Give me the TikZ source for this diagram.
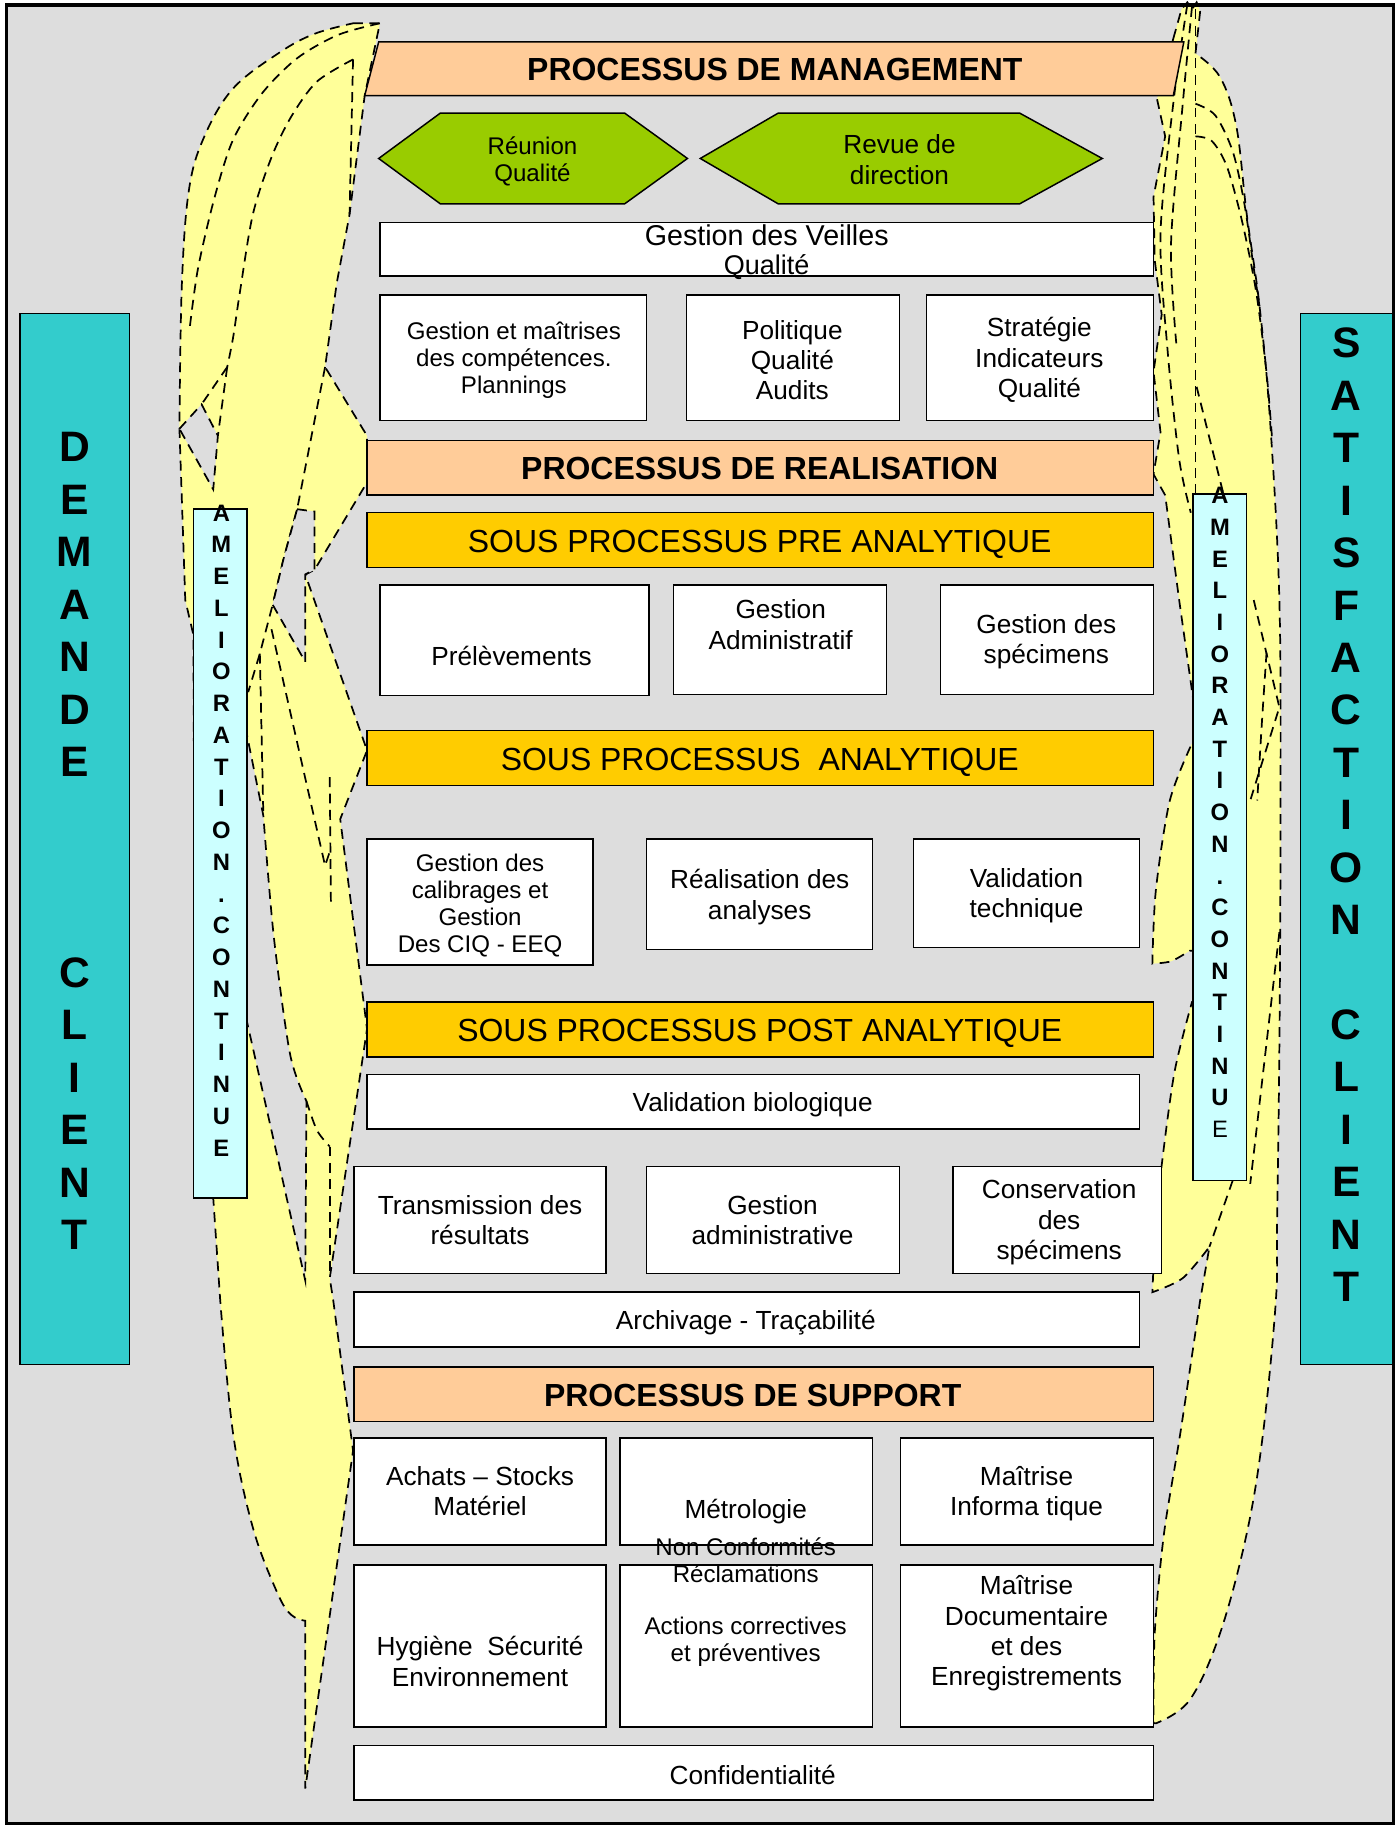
\documentclass[tikz,border=0pt]{standalone}
\usepackage{fontspec}
\setmainfont{Liberation Sans}
\usetikzlibrary{fit}
\definecolor{bgC}{HTML}{DDDDDD}
\definecolor{orC}{HTML}{FFCC99}
\definecolor{goC}{HTML}{FFCC00}
\definecolor{grC}{HTML}{99CC00}
\definecolor{teC}{HTML}{33CCCC}
\definecolor{cyC}{HTML}{CCFFFF}
\definecolor{yeC}{HTML}{FFFF99}
\tikzset{
  bx/.style={draw=black, line width=0.9pt, inner sep=0pt},
  wbox/.style={bx, fill=white},
  obox/.style={bx, fill=orC},
  gbox/.style={bx, fill=goC},
  dsh/.style={draw=black, line width=1.05pt, dash pattern=on 6pt off 4pt},
  tx/.style={inner sep=0pt, align=center},
  fbar/.style={tx, font=\bfseries\fontsize{19.5}{22}\selectfont},
  fsub/.style={tx, font=\fontsize{19.5}{22}\selectfont},
  fnorm/.style={tx, font=\fontsize{16}{18.5}\selectfont},
  fsmall/.style={tx, font=\fontsize{14.7}{16.5}\selectfont},
  bigl/.style={inner sep=0pt, anchor=base, font=\bfseries\fontsize{26}{30}\selectfont},
  aml/.style={inner sep=0pt, anchor=base, font=\bfseries\fontsize{14.5}{17}\selectfont},
}
\begin{document}
\begin{tikzpicture}[x=0.025cm,y=-0.025cm]
\useasboundingbox (0,0) rectangle (1200,1568);
\fill[white] (0,0) rectangle (1200,1568);
\fill[bgC] (5,4) rectangle (1196,1565);

% ---------- left yellow shape ----------
\filldraw[fill=yeC, dsh] (303,20) -- (326,20) -- (313,82) -- (300,184) -- (289,243) -- (279,315) -- (315,374) -- (315,414) -- (270,489) -- (262,493) -- (315,644) -- (292,703) -- (315,883) -- (283,1097) -- (286,1116) -- (303,1245) -- (262,1535) -- (262,1391)
  -- plot[smooth, tension=0.6] coordinates {(262,1391) (250,1386) (238,1367) (217,1311) (200,1230) (189,1116)}
  -- (183,1028) -- (168,1028) -- (166,545) -- (159,515) -- (154,368)
  -- plot[smooth, tension=0.6] coordinates {(154,368) (156,246) (162,164) (175,118) (200,76) (240,45) (270,29) (303,20)} -- cycle;
\draw[dsh] plot[smooth] coordinates {(326,20) (290,30) (255,50) (225,80) (200,120) (184,170) (170,230) (163,280)};
\draw[dsh] plot[smooth] coordinates {(303,51) (272,70) (250,100) (233,135) (217,184) (206,250) (200,290) (195,315)};
\draw[dsh] (303,51) -- (300,184);
\draw[dsh] (195,315) -- (173,347);
\draw[dsh] (195,315) -- (187,374);
\filldraw[fill=bgC, dsh] (154,368) -- (173,347) -- (187,374) -- (183,420) -- cycle;
\draw[dsh] (279,315) -- (255,437) -- (243,481) -- (234,519) -- (223,561) -- (213,594);
\filldraw[fill=bgC, dsh] (255,437) -- (270,439) -- (270,489) -- (262,493) -- (262,568) -- (234,519) -- (243,481) -- cycle;
\draw[dsh] (223,561) -- (226,699);
\draw[dsh] (233,540) -- (279,743) -- (283,731);
\draw[dsh] (283,667) -- (284,775);
\filldraw[fill=bgC, dsh] (205,631) -- (212,631) -- (226,700)
  -- plot[smooth] coordinates {(226,700) (235,804) (249,905) (263,945)}
  -- (262,1099) -- (212,877) -- (205,877) -- cycle;
\draw[dsh] plot[smooth] coordinates {(263,945) (272,970) (283,984)};
\draw[dsh] (283,984) -- (283,1092);

% ---------- right yellow shape ----------
\filldraw[fill=yeC, dsh] (1007,33) -- (1014,8) -- (1019,2) -- (1023,8) -- (1027,2) -- (1030,10) -- (1026,46)
  -- plot[smooth, tension=0.6] coordinates {(1026,46) (1047,66) (1061,108) (1070,184) (1081,263) (1090,361) (1098,515) (1099,700) (1098,900) (1096,1050) (1095,1116) (1084,1230) (1070,1316) (1047,1402) (1021,1459) (992,1479)}
  -- (990,1479)
  -- plot[smooth] coordinates {(990,1479) (991,1402) (999,1316) (1013,1230) (1030,1116)}
  -- (1038,1070)
  -- plot[smooth] coordinates {(1038,1070) (1015,1097) (989,1109)}
  -- plot[smooth] coordinates {(989,1109) (992,1050) (997,1000) (1008,920) (1023,860)}
  -- (1030,860) -- (1030,816) -- (1021,816)
  -- plot[smooth] coordinates {(1021,816) (1005,825) (989,827)}
  -- plot[smooth] coordinates {(989,827) (992,764) (1004,687) (1023,638)}
  -- (1030,638) -- (1030,600) -- (1024,600) -- (1012,515) -- (1000,425) -- (990,407) -- (996,371) -- (990,319) -- (997,270) -- (991,223) -- (990,169) -- (1000,117) -- (993,85) -- cycle;
\draw[dsh] (1026,8) -- (1026,424);
\draw[dsh] plot[smooth] coordinates {(1026,89) (1043,99) (1058,130) (1068,175) (1076,230) (1081,263)};
\draw[dsh] plot[smooth] coordinates {(1026,117) (1040,121) (1053,143) (1066,190) (1078,250) (1087,320) (1092,380)};
\draw[dsh] plot[smooth] coordinates {(1019,4) (1008,80) (996,200) (1002,300) (1012,394) (1022,440)};
\draw[dsh] plot[smooth] coordinates {(1023,6) (1015,90) (1005,210) (1010,300)};
\draw[dsh] (1027,332) -- (1050,424);
\draw[dsh] (1076,515) -- (1098,607) -- (1073,687);
\draw[dsh] plot[smooth] coordinates {(1087,560) (1083,620) (1079,687)};
\draw[dsh] (1098,800) -- (1073,1016);
\draw[dsh] (1058,1013) -- (1038,1070);

% ---------- management ----------
\filldraw[bx, fill=orC] (325,36) -- (1016,36) -- (1007,82) -- (313,82) -- cycle;
\node[fbar] (mgmtT) at (665,60) {PROCESSUS DE MANAGEMENT};
\filldraw[bx, fill=grC] (325,136) -- (378,97) -- (536,97) -- (590,136) -- (536,175) -- (378,175) -- cycle;
\filldraw[bx, fill=grC] (601,136) -- (668,97) -- (875,97) -- (946,136) -- (875,175) -- (668,175) -- cycle;
\node[tx, font=\fontsize{14.7}{17}\selectfont] (reuT) at (457,138.5) {Réunion\\Qualité};
\node[tx, font=\fontsize{16}{19}\selectfont] (revT) at (772,137) {Revue de\\direction};

\node[wbox, fit={(326,191) (990,237)}] (veil) {};
\node[tx, font=\fontsize{17.5}{20}\selectfont] (veilT1) at (658,202) {Gestion des Veilles};
\node[tx, font=\fontsize{16.5}{19}\selectfont] (veilT2) at (658,229) {Qualité};

\node[wbox, fit={(326,253) (555,361)}] (comp) {};
\node[wbox, fit={(589,253) (772,361)}] (pol) {};
\node[wbox, fit={(795,253) (990,361)}] (strat) {};
\node[fsmall] (compT) at (441,309.5) {Gestion et maîtrises\\des compétences.\\Plannings};
\node[fnorm] (polT) at (680,309) {Politique\\Qualité\\Audits};
\node[fnorm] (stratT) at (892,309) {Stratégie\\Indicateurs\\Qualité};

% ---------- realisation ----------
\node[obox, fit={(315,378) (990,425)}] (real) {};
\node[fbar] (realT) at (652,402) {PROCESSUS DE REALISATION};
\node[gbox, fit={(315,440) (990,487)}] (pre) {};
\node[fsub] (preT) at (652,467) {SOUS PROCESSUS PRE ANALYTIQUE};

\node[wbox, fit={(326,502) (557,597)}] (prel) {};
\node[wbox, fit={(578,502) (761,596)}] (adm) {};
\node[wbox, fit={(807,502) (990,596)}] (spec) {};
\node[fnorm] (prelT) at (439,563) {Prélèvements};
\node[fnorm] (admT) at (670,536) {Gestion\\Administratif};
\node[fnorm] (specT) at (898,551) {Gestion des\\spécimens};

\node[gbox, fit={(315,627) (990,674)}] (ana) {};
\node[fsub] (anaT) at (652,654) {SOUS PROCESSUS\ \ ANALYTIQUE};

\node[wbox, fit={(315,720) (509,828)}] (cal) {};
\node[wbox, fit={(555,720) (749,815)}] (rea) {};
\node[wbox, fit={(784,720) (978,813)}] (vt) {};
\node[tx, font=\fontsize{14.7}{16.4}\selectfont] (calT) at (412,777) {Gestion des\\calibrages et\\Gestion\\Des CIQ - EEQ};
\node[fnorm] (reaT) at (652,770) {Réalisation des\\analyses};
\node[fnorm] (vtT) at (881,769) {Validation\\technique};

\node[gbox, fit={(315,860) (990,907)}] (post) {};
\node[fsub] (postT) at (652,887) {SOUS PROCESSUS POST ANALYTIQUE};
\node[wbox, fit={(315,922) (978,969)}] (vb) {};
\node[fnorm] (vbT) at (646,948) {Validation biologique};

\node[wbox, fit={(304,1001) (520,1093)}] (tr) {};
\node[wbox, fit={(555,1001) (772,1093)}] (ga) {};
\node[wbox, fit={(818,1001) (997,1093)}] (cs) {};
\node[fnorm] (trT) at (412,1047) {Transmission des\\résultats};
\node[fnorm] (gaT) at (663,1047) {Gestion\\administrative};
\node[fnorm] (csT) at (909,1049) {Conservation\\des\\spécimens};

\node[wbox, fit={(304,1109) (978,1156)}] (ar) {};
\node[fnorm] (arT) at (640,1135) {Archivage - Traçabilité};

% ---------- support ----------
\node[obox, fit={(304,1173) (990,1220)}] (sup) {};
\node[fbar] (supT) at (646,1198) {PROCESSUS DE SUPPORT};

\node[wbox, fit={(304,1234) (520,1326)}] (ach) {};
\node[wbox, fit={(532,1234) (749,1326)}] (met) {};
\node[wbox, fit={(773,1234) (990,1326)}] (inf) {};
\node[fnorm] (achT) at (412,1280) {Achats – Stocks\\Matériel};
\node[fnorm] (metT) at (640,1297) {Métrologie};
\node[fnorm] (infT) at (881,1282) {Maîtrise\\Informa tique};

\node[wbox, fit={(304,1343) (520,1482)}] (hyg) {};
\node[wbox, fit={(532,1343) (749,1482)}] (nc) {};
\node[wbox, fit={(773,1343) (990,1482)}] (md) {};
\node[fnorm] (hygT) at (412,1426) {Hygiène\ \ Sécurité\\Environnement};
\node[tx, font=\fontsize{14.7}{16.4}\selectfont] (ncT1) at (640,1339) {Non Conformités\\Réclamations};
\node[tx, font=\fontsize{14.7}{16.4}\selectfont] (ncT2) at (640,1409) {Actions correctives\\et préventives};
\node[fnorm] (mdT) at (881,1402) {Maîtrise\\Documentaire\\et des\\Enregistrements};

\node[wbox, fit={(304,1498) (990,1545)}] (conf) {};
\node[fnorm] (confT) at (646,1523) {Confidentialité};

% ---------- amelioration continue ----------
\node[bx, fill=cyC, fit={(166,437) (212,1028)}] (amL) {};
\foreach \ch [count=\i] in {A,M,E,L,I,O,R,A,T,I,O,N,.,C,O,N,T,I,N,U,E}
  \node[aml] (al\i) at (190,{447.3+(\i-1)*27.25}) {\ch};
\node[bx, fill=cyC, fit={(1024,424) (1070,1013)}] (amR) {};
\foreach \ch [count=\i] in {A,M,E,L,I,O,R,A,T,I,O,N,.,C,O,N,T,I,N,U}
  \node[aml] (ar\i) at (1047,{432.3+(\i-1)*27.2}) {\ch};
\node[inner sep=0pt, anchor=base, font=\fontsize{14.5}{17}\selectfont] (arE) at (1047,976.3) {E};

% ---------- client columns ----------
\node[bx, fill=teC, fit={(17,269) (111,1171)}] (dem) {};
\foreach \ch/\k [count=\i] in {D/0,E/1,M/2,A/3,N/4,D/5,E/6,C/10,L/11,I/12,E/13,N/14,T/15}
  \node[bigl] (dm\i) at (64,{396.1+\k*45.1}) {\ch};
\node[bx, fill=teC, fit={(1116,269) (1195,1171)}] (sat) {};
\foreach \ch/\k [count=\i] in {S/0,A/1,T/2,I/3,S/4,F/5,A/6,C/7,T/8,I/9,O/10,N/11,C/13,L/14,I/15,E/16,N/17,T/18}
  \node[bigl] (st\i) at (1155.5,{307.1+\k*45}) {\ch};

\draw[line width=2.3pt] (5.5,4.3) rectangle (1196,1565);
\end{tikzpicture}
\end{document}
